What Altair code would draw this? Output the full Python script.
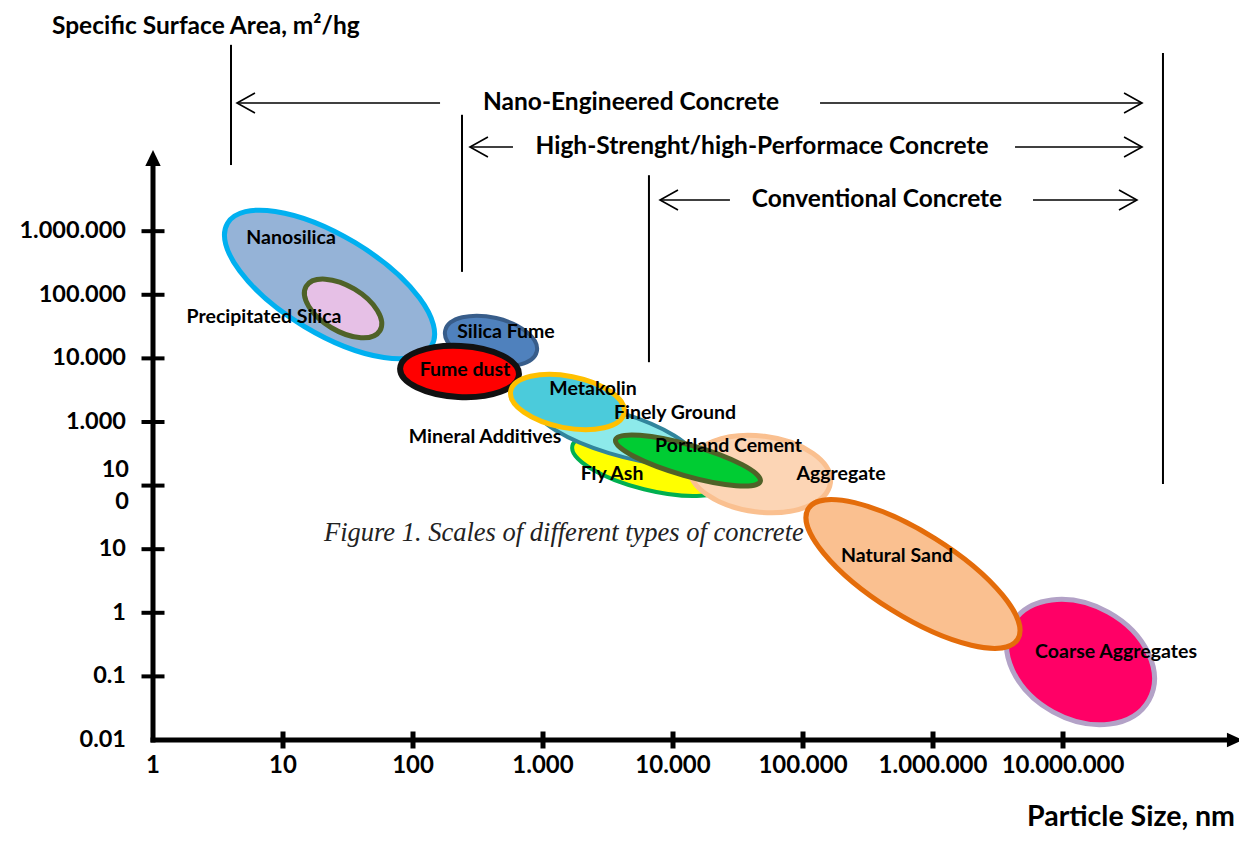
import altair as alt
import pandas as pd

# ---------------- data (log10 units: x = log10 particle size nm, y = log10 area) -------------
x_tick_pos = [1, 2, 3, 4, 5, 6, 7]
x_label_pos = [0, 1, 2, 3, 4, 5, 6, 7]
x_labels = ["1", "10", "100", "1.000", "10.000", "100.000", "1.000.000", "10.000.000"]
y_tick_pos = [-1, 0, 1, 2, 3, 4, 5, 6]
y_label_pos = [-2, -1, 0, 1, 3, 4, 5, 6]
y_labels = ["0.01", "0.1", "1", "10", "1.000", "10.000", "100.000", "1.000.000"]
y_wrapped_pos = [2]
y_wrapped_labels = ["10\n0"]

# materials (drawing order bottom -> top), ellipse centres
materials = ["Nanosilica", "Precipitated Silica", "Silica Fume", "Fume dust", "Fly Ash",
             "Finely Ground Mineral Additives", "Metakolin", "Coarse Aggregates",
             "Aggregate", "Portland Cement", "Natural Sand"]
mat_x = [1.358, 1.462, 2.600, 2.358, 3.823, 3.554, 3.188, 7.135, 4.669, 4.115, 5.846]
mat_y = [5.162, 4.785, 4.274, 3.794, 2.324, 2.827, 3.314, -0.774, 2.182, 2.395, 0.610]

# text labels
label_text = ["Nanosilica", "Precipitated Silica", "Silica Fume", "Fume dust", "Metakolin",
              "Finely Ground", "Mineral Additives", "Fly Ash", "Portland Cement",
              "Aggregate", "Natural Sand", "Coarse Aggregates"]
label_x = [1.062, 0.854, 2.715, 2.400, 3.385, 4.015, 2.554, 3.531, 4.427, 5.292, 5.723, 7.408]
label_y = [5.893, 4.648, 4.415, 3.818, 3.519, 3.142, 2.764, 2.182, 2.623, 2.182, 0.893, -0.616]

# concrete ranges
concrete_names = ["Nano-Engineered Concrete", "High-Strenght/high-Performace Concrete",
                  "Conventional Concrete"]
row_y = [8.016, 7.324, 6.491]
text_x = [3.677, 4.685, 5.569]
left_tip = [0.646, 2.438, 3.900]
left_tail = [2.208, 2.769, 4.438]
right_tail = [5.131, 6.631, 6.769]
right_tip = [7.608, 7.608, 7.569]
vline_x = [0.600, 2.377, 3.815, 7.769]
vline_top = [8.93, 7.83, 6.88, 8.80]
vline_bot = [7.04, 5.36, 3.94, 2.025]

# ---------------- styles ----------------
semi_major = [119, 43, 47, 59.5, 80, 81, 57.8, 78.3, 71, 75.3, 123.4]   # px
semi_minor = [49, 22.5, 23.5, 25.5, 25, 21, 25.8, 57, 38, 15.5, 41.8]    # px
tilt = [31, 31, 13, 3, 14, 17, 11, 29, 7, 16, 32]                        # degrees clockwise
fills = ["#95B3D7", "#E6C0E6", "#4F81BD", "#FF0000", "#FFFF00", "#8DEAEA", "#4BCBDB",
         "#FF0066", "#FCD5B5", "#00CC33", "#FAC090"]
strokes = ["#00B0F0", "#4F6228", "#385D8A", "#111111", "#00B050", "#31859C", "#FFC000",
           "#B3A2C7", "#FAC090", "#4F6228", "#E46C0A"]
stroke_w = [5, 5, 4, 6, 4, 4, 5, 5, 5, 5, 5]

FONT = "Lato"
K = 0.5523


def ellipse_path(r):
    kr = K * r
    return (f"M1,0 C1,{kr:.4f} {K},{r:.4f} 0,{r:.4f} "
            f"C{-K},{r:.4f} -1,{kr:.4f} -1,0 "
            f"C-1,{-kr:.4f} {-K},{-r:.4f} 0,{-r:.4f} "
            f"C{K},{-r:.4f} 1,{-kr:.4f} 1,0 Z")


XS = alt.Scale(domain=[-1.1154, 8.3538], nice=False, zero=False)
YS = alt.Scale(domain=[-3.4623, 9.509], nice=False, zero=False)


def X(f="x"):
    return alt.X(f"{f}:Q", scale=XS, axis=None)


def Y(f="y"):
    return alt.Y(f"{f}:Q", scale=YS, axis=None)


# ---------------- tables ----------------
ell = pd.DataFrame({
    "name": materials, "x": mat_x, "y": mat_y,
    "shape": [ellipse_path(b / a) for a, b in zip(semi_major, semi_minor)],
    "size": [(2 * a) ** 2 for a in semi_major],
    "angle": tilt, "fill": fills, "stroke": strokes, "sw": stroke_w,
    "order": list(range(len(materials))),
})
labels = pd.DataFrame({"t": label_text, "x": label_x, "y": label_y})

ellipses = alt.Chart(ell).mark_point(filled=True, opacity=1, fillOpacity=1, strokeOpacity=1).encode(
    x=X(), y=Y(),
    shape=alt.Shape("shape:N", scale=None, legend=None),
    size=alt.Size("size:Q", scale=None, legend=None),
    angle=alt.Angle("angle:Q", scale=None),
    fill=alt.Fill("fill:N", scale=None, legend=None),
    stroke=alt.Stroke("stroke:N", scale=None, legend=None),
    strokeWidth=alt.StrokeWidth("sw:Q", scale=None, legend=None),
    order=alt.Order("order:Q"),
)

mat_labels = alt.Chart(labels).mark_text(font=FONT, fontWeight="bold", fontSize=19.5,
                                         color="black", baseline="middle").encode(
    x=X(), y=Y(), text="t:N")

# caption (beneath ellipses)
caption = alt.Chart(pd.DataFrame({"t": ["Figure 1. Scales of different types of concrete"],
                                  "x": [1.315], "y": [1.255]})).mark_text(
    font="Liberation Serif", fontStyle="italic", fontSize=26.5, color="#222222",
    align="left", baseline="middle").encode(x=X(), y=Y(), text="t:N")

# bracket lines
vlines = alt.Chart(pd.DataFrame({"x": vline_x, "y": vline_top, "y2": vline_bot})).mark_rule(
    color="black", strokeWidth=2).encode(x=X(), y=Y(), y2="y2:Q")

arrows_df = pd.DataFrame({
    "x": left_tip + right_tail, "x2": left_tail + right_tip, "y": row_y + row_y})
hlines = alt.Chart(arrows_df).mark_rule(color="black", strokeWidth=1.6).encode(
    x=X(), x2="x2:Q", y=Y())

left_heads = alt.Chart(pd.DataFrame({"x": left_tip, "y": row_y})).mark_point(
    shape="M1.8,-1 L0,0 L1.8,1", filled=False, size=400, stroke="black",
    strokeWidth=1.6, opacity=1).encode(x=X(), y=Y())
right_heads = alt.Chart(pd.DataFrame({"x": right_tip, "y": row_y})).mark_point(
    shape="M-1.8,-1 L0,0 L-1.8,1", filled=False, size=400, stroke="black",
    strokeWidth=1.6, opacity=1).encode(x=X(), y=Y())

concrete_text = alt.Chart(pd.DataFrame({"t": concrete_names, "x": text_x, "y": row_y})).mark_text(
    font=FONT, fontWeight="bold", fontSize=24.5, color="black", baseline="middle").encode(
    x=X(), y=Y(), text="t:N")

# axes
axis_lines = alt.Chart(pd.DataFrame({"x": [0, 0], "x2": [0, 8.285], "y": [-2, -2],
                                     "y2": [7.119, -2]})).mark_rule(
    color="black", strokeWidth=5, strokeCap="square").encode(x=X(), x2="x2:Q", y=Y(), y2="y2:Q")

y_head = alt.Chart(pd.DataFrame({"x": [0], "y": [7.277]})).mark_point(
    shape="M0,0 L0.55,1.15 L-0.55,1.15 Z", filled=True, size=784, color="black",
    opacity=1).encode(x=X(), y=Y())
x_head = alt.Chart(pd.DataFrame({"x": [8.385], "y": [-2]})).mark_point(
    shape="M0,0 L-1.15,-0.52 L-1.15,0.52 Z", filled=True, size=784, color="black",
    opacity=1).encode(x=X(), y=Y())

y_ticks = alt.Chart(pd.DataFrame({"x": [0] * len(y_tick_pos), "y": y_tick_pos})).mark_tick(
    orient="horizontal", size=23, thickness=4, color="black", opacity=1).encode(x=X(), y=Y())
x_ticks = alt.Chart(pd.DataFrame({"x": x_tick_pos, "y": [-2] * len(x_tick_pos)})).mark_tick(
    orient="vertical", size=17, thickness=5, color="black", opacity=1).encode(x=X(), y=Y())

y_tick_labels = alt.Chart(pd.DataFrame({"t": y_labels, "x": [0] * len(y_labels),
                                        "y": y_label_pos})).mark_text(
    font=FONT, fontWeight="bold", fontSize=23.5, color="black", align="right",
    baseline="middle", dx=-27).encode(x=X(), y=Y(), text="t:N")
y_wrapped = alt.Chart(pd.DataFrame({"t": y_wrapped_labels, "x": [0] * len(y_wrapped_labels),
                                    "y": y_wrapped_pos})).mark_text(
    font=FONT, fontWeight="bold", fontSize=23.5, color="black", align="right",
    baseline="middle", dx=-24, dy=-16, lineBreak="\n", lineHeight=32).encode(
    x=X(), y=Y(), text="t:N")
x_tick_labels = alt.Chart(pd.DataFrame({"t": x_labels, "x": x_label_pos,
                                        "y": [-2] * len(x_labels)})).mark_text(
    font=FONT, fontWeight="bold", fontSize=24, color="black", align="center",
    baseline="middle", dy=26).encode(x=X(), y=Y(), text="t:N")

titles = alt.Chart(pd.DataFrame({"t": ["Specific Surface Area, m²/hg"], "x": [-0.777],
                                 "y": [9.211]})).mark_text(
    font=FONT, fontWeight="bold", fontSize=24.5, color="black", align="left",
    baseline="middle").encode(x=X(), y=Y(), text="t:N")
xtitle = alt.Chart(pd.DataFrame({"t": ["Particle Size, nm"], "x": [8.323],
                                 "y": [-3.215]})).mark_text(
    font=FONT, fontWeight="bold", fontSize=28.5, color="black", align="right",
    baseline="middle").encode(x=X(), y=Y(), text="t:N")

chart = alt.layer(
    caption, vlines, hlines, left_heads, right_heads, concrete_text,
    axis_lines, y_head, x_head, y_ticks, x_ticks, y_tick_labels, y_wrapped, x_tick_labels,
    titles, xtitle, ellipses, mat_labels,
).properties(
    width=1231, height=825, padding=0,
    autosize=alt.AutoSizeParams(type="none"),
    background="white",
).configure_view(stroke=None)

chart.save("out.html", embed_options={"renderer": "svg", "actions": False})
